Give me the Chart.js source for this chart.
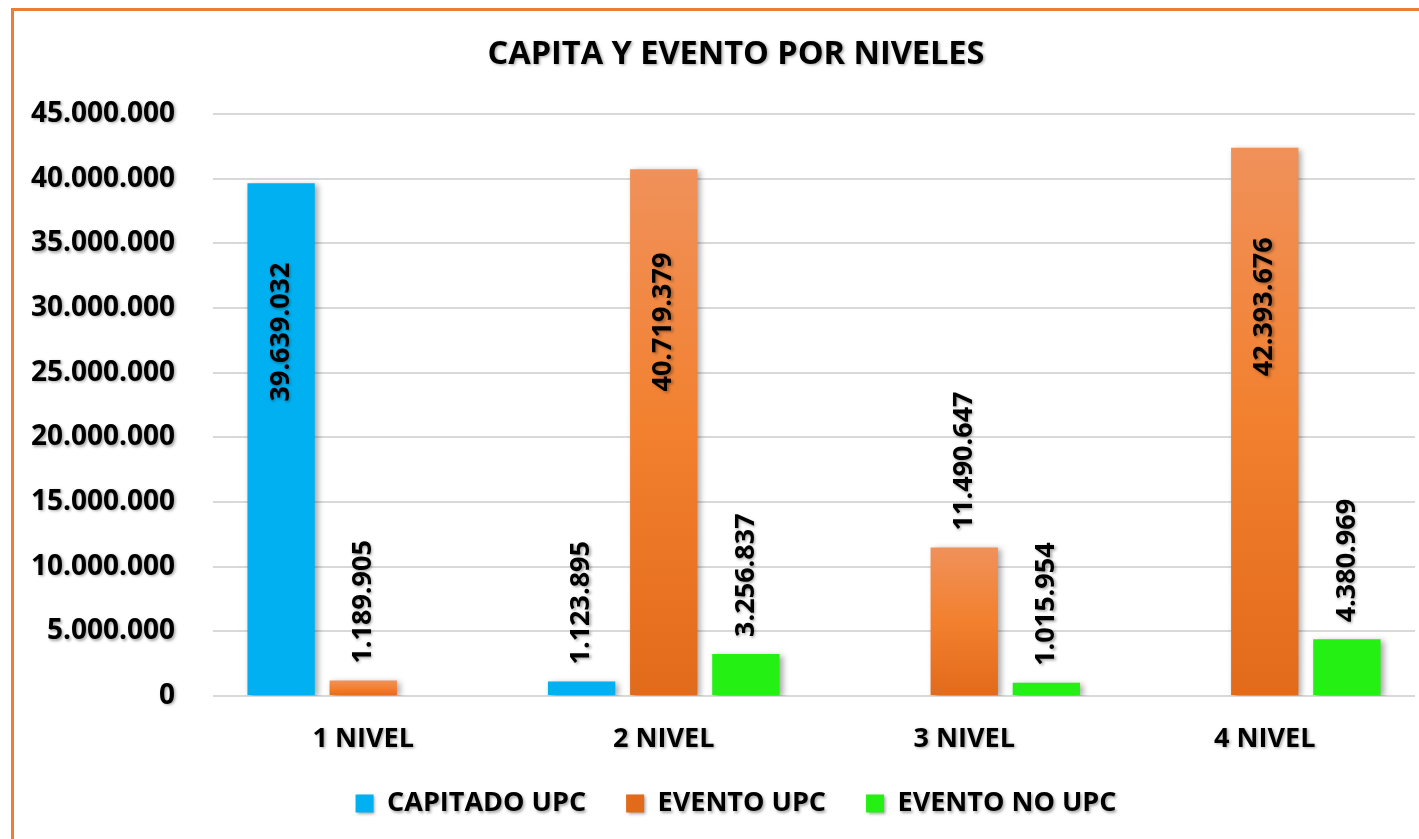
<!DOCTYPE html>
<html>
<head>
<meta charset="utf-8">
<title>Capita y evento por niveles</title>
<script src="https://cdn.jsdelivr.net/npm/chart.js@4/dist/chart.umd.min.js"></script>
<style>
  html, body { margin: 0; padding: 0; background: #fff; overflow: hidden; }
  #wrap { position: relative; width: 1419px; height: 839px; }
  #frame {
    position: absolute; left: 11px; top: 8px; width: 1500px; height: 1000px;
    border: 3px solid #ED7D31; pointer-events: none;
  }
  canvas { position: absolute; left: 0; top: 0; }
</style>
</head>
<body>
<div id="wrap">
  <canvas id="chart" width="1419" height="839"></canvas>
  <div id="frame"></div>
</div>
<script>
const categories = ['1 NIVEL', '2 NIVEL', '3 NIVEL', '4 NIVEL'];
const capitadoUpc = [39639032, 1123895, null, null];
const eventoUpc = [1189905, 40719379, 11490647, 42393676];
const eventoNoUpc = [null, 3256837, 1015954, 4380969];
const seriesNames = ['CAPITADO UPC', 'EVENTO UPC', 'EVENTO NO UPC'];
const yMax = 45000000;
const yStep = 5000000;

const FONT = '"Open Sans", "DejaVu Sans", sans-serif';
const BLUE = '#00B0F0';
const GREEN = '#25F014';
const ORANGE = '#F07F2F';

// 39.639.032 style numbers
const fmt = (v) => String(v).replace(/\B(?=(\d{3})+(?!\d))/g, '.');

const textShadow = (ctx) => {
  ctx.shadowColor = 'rgba(0,0,0,0.35)';
  ctx.shadowBlur = 3;
  ctx.shadowOffsetX = 1.5;
  ctx.shadowOffsetY = 1.5;
};

const barShadow = (ctx) => {
  ctx.shadowColor = 'rgba(0,0,0,0.35)';
  ctx.shadowBlur = 6;
  ctx.shadowOffsetX = 3;
  ctx.shadowOffsetY = 2;
};

// lighter on top, darker at the base, per bar
const orangeFill = (c) => {
  const chart = c.chart;
  const y = chart.scales.y;
  if (!chart.chartArea || !c.parsed || !y) return ORANGE;
  const top = y.getPixelForValue(c.parsed.y);
  const bottom = y.getPixelForValue(0);
  if (!isFinite(top) || bottom - top < 1) return ORANGE;
  const g = chart.ctx.createLinearGradient(0, top, 0, bottom);
  g.addColorStop(0, '#F0915A');
  g.addColorStop(0.5, '#F2802E');
  g.addColorStop(1, '#E26A1B');
  return g;
};

const effects = {
  id: 'effects',
  afterLayout(chart) {
    const { x, y } = chart.scales;
    if (y && !y._patched) {
      // no shadow on grid lines
      const drawGrid = y.drawGrid;
      y.drawGrid = function (area) {
        const ctx = this.ctx;
        ctx.save();
        ctx.shadowColor = 'rgba(0,0,0,0)';
        drawGrid.call(this, area);
        ctx.restore();
      };
      // labels may run outside the axis boxes
      y._computeLabelArea = () => undefined;
      x._computeLabelArea = () => undefined;
      y._patched = true;
    }
  },
  beforeDraw(chart) {
    chart.ctx.save();
    textShadow(chart.ctx);
  },
  beforeDatasetsDraw(chart) {
    barShadow(chart.ctx);
  },
  afterDatasetsDraw(chart) {
    const ctx = chart.ctx;
    const yScale = chart.scales.y;
    textShadow(ctx);
    chart.data.datasets.forEach((ds, i) => {
      const meta = chart.getDatasetMeta(i);
      meta.data.forEach((bar, j) => {
        const v = ds.data[j];
        if (v == null) return;
        ctx.save();
        ctx.font = 'bold 27px ' + FONT;
        ctx.fillStyle = '#000';
        ctx.textBaseline = 'middle';
        if (v > 20000000) {
          ctx.translate(bar.x, yScale.getPixelForValue(v * 0.71));
          ctx.textAlign = 'center';
        } else {
          ctx.translate(bar.x, bar.y - 17);
          ctx.textAlign = 'left';
        }
        ctx.rotate(-Math.PI / 2);
        ctx.fillText(fmt(v), 0, 0);
        ctx.restore();
      });
    });
  },
  afterDraw(chart) {
    chart.ctx.restore();
  }
};

new Chart(document.getElementById('chart'), {
  type: 'bar',
  data: {
    labels: categories,
    datasets: [
      { label: seriesNames[0], data: capitadoUpc, backgroundColor: BLUE },
      { label: seriesNames[1], data: eventoUpc, backgroundColor: orangeFill },
      { label: seriesNames[2], data: eventoNoUpc, backgroundColor: GREEN }
    ]
  },
  options: {
    responsive: false,
    animation: false,
    devicePixelRatio: 1,
    categoryPercentage: 0.82,
    barPercentage: 0.82,
    layout: { padding: { left: 57, right: 4, top: 0, bottom: 12 } },
    plugins: {
      title: {
        display: true,
        text: 'CAPITA Y EVENTO POR NIVELES',
        color: '#000',
        font: { family: FONT, size: 32.5, weight: 'bold' },
        padding: { top: 35, bottom: 40 }
      },
      legend: {
        position: 'bottom',
        labels: {
          color: '#000',
          font: { family: FONT, size: 27, weight: 'bold' },
          boxWidth: 18,
          boxHeight: 18,
          padding: 40
        }
      },
      tooltip: { enabled: false }
    },
    scales: {
      x: {
        afterFit: (s) => { s.height = 54; },
        grid: { display: false, drawTicks: false },
        border: { display: false },
        ticks: {
          color: '#000',
          font: { family: FONT, size: 27, weight: 'bold' },
          padding: 27
        }
      },
      y: {
        min: 0,
        max: yMax,
        afterFit: (s) => { s.width = 156; },
        grid: { color: '#D9D9D9', lineWidth: 2, drawTicks: false },
        border: { display: false },
        ticks: {
          stepSize: yStep,
          color: '#000',
          font: { family: FONT, size: 28, weight: 'bold' },
          padding: 38,
          callback: (v) => fmt(v)
        }
      }
    }
  },
  plugins: [effects]
});
</script>
</body>
</html>
